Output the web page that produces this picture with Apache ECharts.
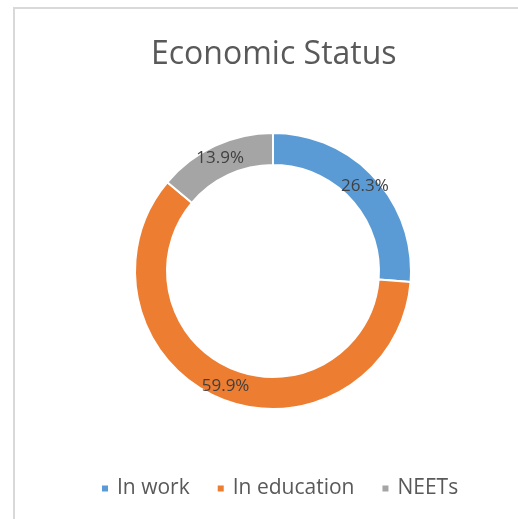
<!DOCTYPE html>
<html>
<head>
<meta charset="utf-8">
<script src="https://cdn.jsdelivr.net/npm/echarts@6/dist/echarts.min.js"></script>
<style>
  html, body { margin: 0; padding: 0; background: #fff; }
  #main { width: 518px; height: 519px; }
</style>
</head>
<body>
<div id="main"></div>
<script>
  const categories = ['In work', 'In education', 'NEETs'];
  const values = [26.3, 59.9, 13.9];

  const colors = ['#5B9BD5', '#ED7D31', '#A5A5A5'];
  const fontFamily = '"Open Sans", "Noto Sans", sans-serif';

  const myChart = echarts.init(document.getElementById('main'));

  const options = {
    color: colors,
    animation: false,
    title: {
      text: 'Economic Status',
      left: 146,
      top: 34,
      textStyle: {
        fontFamily: fontFamily,
        fontSize: 32,
        fontWeight: 'normal',
        color: '#595959',
      },
    },
    legend: {
      data: categories,
      top: 473,
      left: 95,
      icon: 'rect',
      itemWidth: 8,
      itemHeight: 8,
      itemGap: 26,
      textStyle: {
        fontFamily: fontFamily,
        fontSize: 21,
        color: '#595959',
        padding: [0, 0, 0, 3],
      },
    },
    // chart frame (only top and left edges are visible)
    graphic: [
      {
        type: 'rect',
        silent: true,
        shape: { x: 14, y: 8, width: 700, height: 700 },
        style: { fill: 'none', stroke: '#d9d9d9', lineWidth: 2 },
      },
    ],
    series: [
      {
        type: 'pie',
        center: [273, 271],
        radius: [106, 138],
        startAngle: 90,
        clockwise: true,
        itemStyle: {
          borderColor: '#fff',
          borderWidth: 2,
        },
        label: {
          show: true,
          position: 'inside',
          formatter: (p) => p.value.toFixed(1) + '%',
          fontFamily: fontFamily,
          fontSize: 17,
          color: '#404040',
        },
        labelLine: { show: false },
        emphasis: { disabled: true },
        data: categories.map((name, i) => ({ name: name, value: values[i] })),
      },
    ],
  };

  myChart.setOption(options);
</script>
</body>
</html>
